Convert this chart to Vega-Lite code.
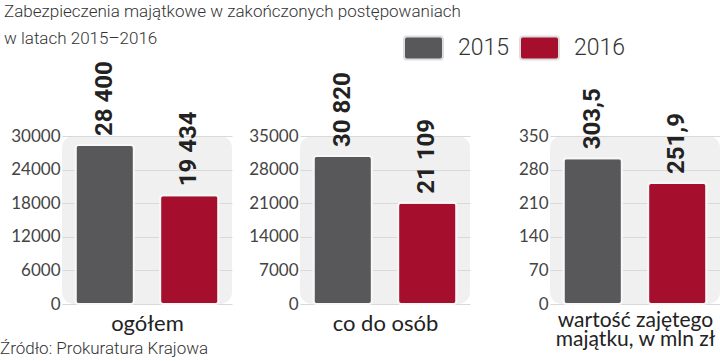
{
  "$schema": "https://vega.github.io/schema/vega-lite/v6.json",
  "padding": {"left": 0, "right": 0, "top": 3, "bottom": 0},
  "background": "white",
  "datasets": {
    "d": [
      {"panel": "ogolem", "year": "2015", "value": 28400, "label": "28 400"},
      {"panel": "ogolem", "year": "2016", "value": 19434, "label": "19 434"},
      {"panel": "osoby", "year": "2015", "value": 30820, "label": "30 820"},
      {"panel": "osoby", "year": "2016", "value": 21109, "label": "21 109"},
      {"panel": "wartosc", "year": "2015", "value": 303.5, "label": "303,5"},
      {"panel": "wartosc", "year": "2016", "value": 251.9, "label": "251,9"}
    ]
  },
  "title": {
    "text": ["Zabezpieczenia majątkowe w zakończonych postępowaniach", "w latach 2015–2016"],
    "anchor": "start",
    "frame": "bounds",
    "font": "Roboto",
    "fontSize": 17,
    "fontWeight": 300,
    "color": "#333333",
    "lineHeight": 27,
    "offset": -21,
    "dx": 4
  },
  "hconcat": [
    {
      "bounds": "flush",
      "hconcat": [
        {
          "data": {"name": "d"},
          "transform": [{"filter": "datum.panel === 'ogolem'"}],
          "width": 170,
          "height": 168,
          "title": {
            "text": "Źródło: Prokuratura Krajowa",
            "orient": "bottom",
            "anchor": "start",
            "frame": "group",
            "dx": -62,
            "offset": 7,
            "font": "Roboto",
            "fontSize": 17,
            "fontWeight": 300,
            "color": "#333333"
          },
          "encoding": {
            "x": {"field": "year", "type": "nominal", "scale": {"paddingInner": 0.31, "paddingOuter": 0.16}, "axis": {"title": "ogółem"}},
            "y": {"field": "value", "type": "quantitative", "scale": {"domain": [0, 30000], "nice": false}, "axis": {"values": [0, 6000, 12000, 18000, 24000, 30000]}}
          },
          "layer": [
            {"mark": {"type": "bar", "cornerRadius": 3, "stroke": "#f7f7f7", "strokeWidth": 2},
             "encoding": {"color": {"field": "year", "type": "nominal", "scale": {"domain": ["2015", "2016"], "range": ["#58585a", "#a50e2c"]}}}},
            {"mark": {"type": "text", "angle": 270, "align": "left", "baseline": "middle", "dx": 9, "font": "Roboto", "fontWeight": "bold", "fontSize": 24, "color": "#222222"},
             "encoding": {"text": {"field": "label"}}}
          ]
        },
        {
          "data": {"name": "d"},
          "transform": [{"filter": "datum.panel === 'osoby'"}],
          "width": 170,
          "height": 168,
          "encoding": {
            "x": {"field": "year", "type": "nominal", "scale": {"paddingInner": 0.31, "paddingOuter": 0.16}, "axis": {"title": "co do osób"}},
            "y": {"field": "value", "type": "quantitative", "scale": {"domain": [0, 35000], "nice": false}, "axis": {"values": [0, 7000, 14000, 21000, 28000, 35000]}}
          },
          "layer": [
            {"mark": {"type": "bar", "cornerRadius": 3, "stroke": "#f7f7f7", "strokeWidth": 2},
             "encoding": {"color": {"field": "year", "type": "nominal", "scale": {"domain": ["2015", "2016"], "range": ["#58585a", "#a50e2c"]}}}},
            {"mark": {"type": "text", "angle": 270, "align": "left", "baseline": "middle", "dx": 9, "font": "Roboto", "fontWeight": "bold", "fontSize": 24, "color": "#222222"},
             "encoding": {"text": {"field": "label"}}}
          ]
        }
      ],
      "spacing": 68,
      "resolve": {"scale": {"x": "independent", "y": "independent", "color": "shared"}}
    },
    {
      "data": {"name": "d"},
      "transform": [{"filter": "datum.panel === 'wartosc'"}],
      "width": 170,
      "height": 168,
      "encoding": {
        "x": {"field": "year", "type": "nominal", "scale": {"paddingInner": 0.31, "paddingOuter": 0.16}, "axis": {"title": ["wartość zajętego", "majątku, w mln zł"], "titleFontSize": 21, "titleLineHeight": 19, "titlePadding": 5}},
        "y": {"field": "value", "type": "quantitative", "scale": {"domain": [0, 350], "nice": false}, "axis": {"values": [0, 70, 140, 210, 280, 350]}}
      },
      "layer": [
        {"mark": {"type": "bar", "cornerRadius": 3, "stroke": "#f7f7f7", "strokeWidth": 2},
         "encoding": {"color": {"field": "year", "type": "nominal", "scale": {"domain": ["2015", "2016"], "range": ["#58585a", "#a50e2c"]}}}},
        {"mark": {"type": "text", "angle": 270, "align": "left", "baseline": "middle", "dx": 9, "font": "Roboto", "fontWeight": "bold", "fontSize": 24, "color": "#222222"},
         "encoding": {"text": {"field": "label"}}}
      ]
    }
  ],
  "spacing": 48,
  "resolve": {"scale": {"x": "independent", "y": "independent", "color": "shared"}, "legend": {"color": "shared"}},
  "config": {
    "view": {"fill": "#f0f0f0", "stroke": null, "cornerRadius": 12},
    "axisX": {"labels": false, "ticks": false, "domain": false, "grid": false, "titleFont": "Lato", "titleFontSize": 22, "titleFontWeight": "normal", "titleColor": "#222222", "titlePadding": 9, "titleLineHeight": 20},
    "axisY": {"title": null, "ticks": false, "domain": false, "grid": true, "gridColor": "#d9d9d9", "gridWidth": 1, "labelFont": "Lato", "labelFontSize": 17, "labelColor": "#444444", "labelPadding": 2, "format": "d"},
    "legend": {
      "orient": "none",
      "legendX": 341,
      "legendY": -109,
      "direction": "horizontal",
      "title": null,
      "symbolType": "M-0.85,-0.59H0.85A0.15,0.15 0 0 1 1,-0.44V0.44A0.15,0.15 0 0 1 0.85,0.59H-0.85A0.15,0.15 0 0 1 -1,0.44V-0.44A0.15,0.15 0 0 1 -0.85,-0.59Z",
      "symbolSize": 1521,
      "symbolStrokeColor": "#dddddd",
      "symbolStrokeWidth": 2,
      "symbolOpacity": 1,
      "labelFont": "Roboto",
      "labelFontWeight": 300,
      "labelFontSize": 23,
      "labelColor": "#333333",
      "labelOffset": 14,
      "columnPadding": 6,
      "padding": 0
    }
  }
}
